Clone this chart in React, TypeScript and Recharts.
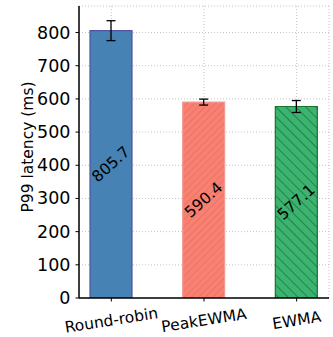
import { BarChart, Bar, XAxis, YAxis, CartesianGrid, Cell, ErrorBar, LabelList } from "recharts"

const categories = ["Round-robin", "PeakEWMA", "EWMA"]
const p99 = [805.7, 590.4, 577.1]
const p99Err = [30, 9, 18]
const yTicks = [0, 100, 200, 300, 400, 500, 600, 700, 800]

const FILLS = ["#4682b4", "url(#hatchSalmon)", "url(#hatchGreen)"]
const EDGES = ["#4f55a3", "#f29b93", "#13752c"]

const FONT = "'DejaVu Sans', sans-serif"

const data = categories.map((name, i) => ({ name, value: p99[i], err: p99Err[i] }))

const XTick = (props: any) => {
    const { x, y, payload } = props
    return (
        <g transform={`translate(${x},${y + 17})`}>
            <text transform="rotate(-9)" textAnchor="middle" dy={5} fontSize={15.5} fontFamily={FONT} fill="#000">
                {payload.value}
            </text>
        </g>
    )
}

const YTick = (props: any) => {
    const { x, y, payload } = props
    return (
        <text x={x} y={y} textAnchor="end" dominantBaseline="central" fontSize={17.5} fontFamily={FONT} fill="#000">
            {payload.value}
        </text>
    )
}

const BarValue = (props: any) => {
    const { x, y, width, height, value } = props
    const cx = x + width / 2
    const cy = y + height / 2
    return (
        <text
            x={cx}
            y={cy}
            transform={`rotate(-42, ${cx}, ${cy})`}
            textAnchor="middle"
            dominantBaseline="central"
            fontSize={15.5}
            fontFamily={FONT}
            fill="#000"
        >
            {value}
        </text>
    )
}

export default function App() {
    return (
        <div style={{ position: "absolute", left: 0, top: 0, background: "#fff" }}>
            <BarChart width={333} height={337} data={data} margin={{ top: 6, right: 4, bottom: 9, left: 0 }}>
                <defs>
                    <pattern id="hatchSalmon" patternUnits="userSpaceOnUse" width={5} height={5} patternTransform="rotate(45)">
                        <rect width={5} height={5} fill="#fa8072" />
                        <line x1={0} y1={0} x2={0} y2={5} stroke="#d2695f" strokeWidth={1} />
                    </pattern>
                    <pattern id="hatchGreen" patternUnits="userSpaceOnUse" width={7} height={7} patternTransform="rotate(-45)">
                        <rect width={7} height={7} fill="#3cb371" />
                        <line x1={0} y1={0} x2={0} y2={7} stroke="#0b5e1e" strokeWidth={1.1} />
                    </pattern>
                </defs>
                <CartesianGrid stroke="#c4c4c4" strokeDasharray="1 2" />
                <XAxis
                    dataKey="name"
                    padding={{ left: -14, right: -14 }}
                    height={30}
                    tick={<XTick />}
                    tickSize={3.5}
                    axisLine={{ stroke: "#000", strokeWidth: 1.5 }}
                    tickLine={{ stroke: "#000" }}
                    interval={0}
                />
                <XAxis xAxisId="top" orientation="top" height={0} tick={false} tickLine={false} axisLine={{ stroke: "#000", strokeWidth: 1.5 }} />
                <YAxis
                    domain={[0, 880]}
                    ticks={yTicks}
                    width={79}
                    tickSize={3.5}
                    tickMargin={5}
                    tick={<YTick />}
                    axisLine={{ stroke: "#000", strokeWidth: 1.5 }}
                    tickLine={{ stroke: "#000" }}
                    allowDataOverflow
                    label={{ value: "P99 latency (ms)", angle: -90, position: "center", dx: -12, dy: -5, fontSize: 15.5, fontFamily: FONT, fill: "#000" }}
                />
                <YAxis yAxisId="right" orientation="right" width={0} tick={false} tickLine={false} axisLine={{ stroke: "#000", strokeWidth: 1.5 }} />
                <Bar dataKey="value" barSize={42} isAnimationActive={false} strokeWidth={1.2}>
                    {data.map((_, i) => (
                        <Cell key={i} fill={FILLS[i]} stroke={EDGES[i]} />
                    ))}
                    <ErrorBar dataKey="err" width={4.5} stroke="#000" strokeWidth={1.3} direction="y" />
                    <LabelList dataKey="value" content={<BarValue />} />
                </Bar>
            </BarChart>
        </div>
    )
}
